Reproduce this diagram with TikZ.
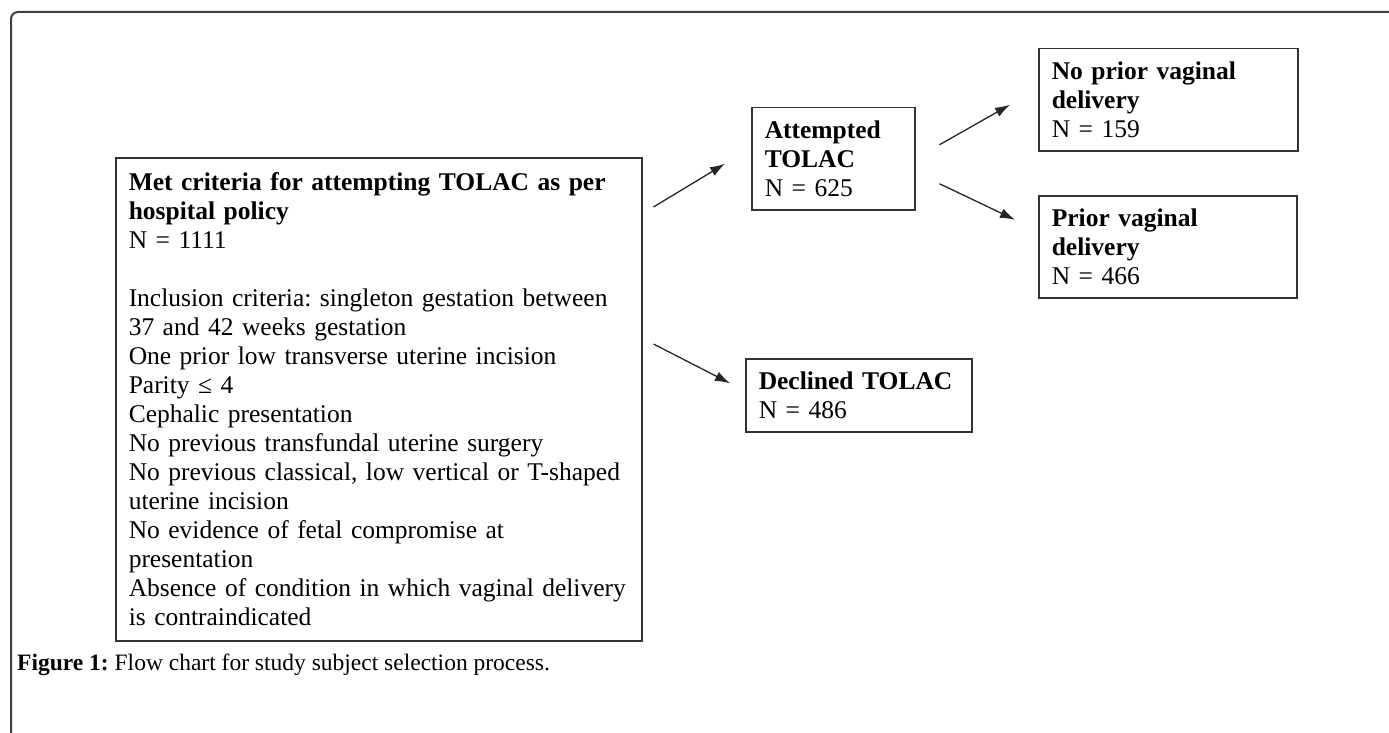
\documentclass[tikz,border=0pt]{standalone}
\usepackage{fontspec}
\setmainfont{Liberation Serif}
\frenchspacing
\usetikzlibrary{arrows.meta}
\tikzset{
  box/.style={draw=black!80, line width=1.5pt, anchor=north west, align=left,
    inner xsep=13pt, inner ysep=0pt, font=\fontsize{25.5}{29}\selectfont},
  arr/.style={-{Latex[length=15pt,width=10pt]}, line width=1.3pt, draw=black!85},
}
\begin{document}
\begin{tikzpicture}[x=1pt,y=-1pt]
  \useasboundingbox (0,0) rectangle (1389,733);
  \draw[black!75, line width=2pt, rounded corners=7pt] (11,745) -- (11,12) -- (1400,12);
  \node[box, text width=500pt, minimum width=526pt, minimum height=483pt] (main) at (115,157)
    {\textbf{Met criteria for attempting TOLAC as per}\\
     \textbf{hospital policy}\\
     N = 1111\\[29pt]
     Inclusion criteria: singleton gestation between\\
     37 and 42 weeks gestation\\
     One prior low transverse uterine incision\\
     Parity ≤ 4\\
     Cephalic presentation\\
     No previous transfundal uterine surgery\\
     No previous classical, low vertical or T-shaped\\
     uterine incision\\
     No evidence of fetal compromise at\\
     presentation\\
     Absence of condition in which vaginal delivery\\
     is contraindicated};
  \node[box, text width=137pt, minimum width=163pt, minimum height=102pt] (att) at (751,107)
    {\textbf{Attempted}\\ \textbf{TOLAC}\\ N = 625};
  \node[box, text width=233pt, minimum width=259pt, minimum height=102pt] (nopr) at (1038,48)
    {\textbf{No prior vaginal}\\ \textbf{delivery}\\ N = 159};
  \node[box, text width=232pt, minimum width=258pt, minimum height=102pt] (prior) at (1038,195)
    {\textbf{Prior vaginal}\\ \textbf{delivery}\\ N = 466};
  \node[box, text width=200pt, minimum width=226pt, minimum height=73pt] (decl) at (745,358)
    {\textbf{Declined TOLAC}\\ N = 486};
  \node[anchor=west, inner sep=0pt, font=\fontsize{23.5}{28}\selectfont] (cap) at (17,665)
    {\textbf{Figure 1:} Flow chart for study subject selection process.};
  % arrows between the boxes
  \draw[arr] ([shift={(11,50)}]main.north east) to ([shift={(-26,5)}]att.west);
  \draw[arr] ([shift={(11,187)}]main.north east) to ([shift={(-15,-12)}]decl.west);
  \draw[arr] ([shift={(24,-14)}]att.east) to ([shift={(-28,5)}]nopr.west);
  \draw[arr] ([shift={(24,25)}]att.east) to ([shift={(-23,-27)}]prior.west);
\end{tikzpicture}
\end{document}
